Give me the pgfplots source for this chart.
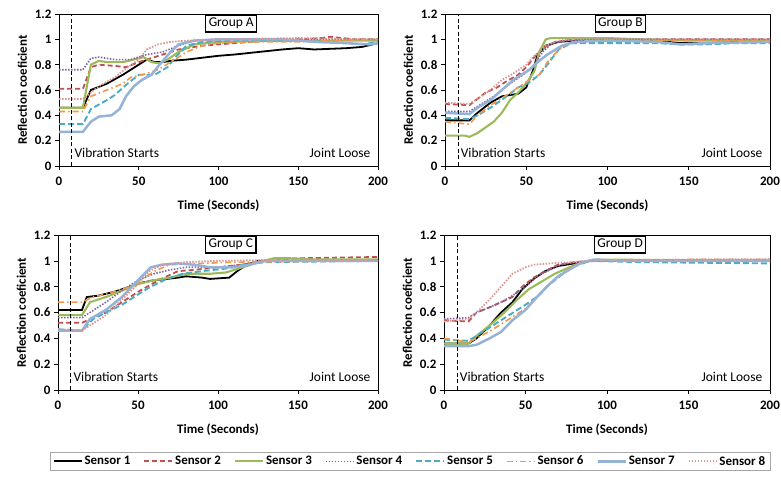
\documentclass[border=0pt]{standalone}
\usepackage{pgfplots}
\pgfplotsset{compat=1.18}
\usepackage{fontspec}
\setmainfont{Carlito}
\definecolor{c2}{HTML}{C0504D}
\definecolor{c3}{HTML}{9BBB59}
\definecolor{c4}{HTML}{8064A2}
\definecolor{c5}{HTML}{4BACC6}
\definecolor{c6}{HTML}{F79646}
\definecolor{c7}{HTML}{95B3D7}
\definecolor{c8}{HTML}{D99694}
\tikzset{
 s1/.style={black, line width=1.8bp, solid},
 s2/.style={c2, line width=1.8bp, dash pattern=on 5bp off 3bp},
 s3/.style={c3, line width=2.1bp, solid},
 s4/.style={c4, line width=1.6bp, dash pattern=on 1.5bp off 1.5bp},
 s5/.style={c5, line width=1.9bp, dash pattern=on 6bp off 3bp},
 s6/.style={c6, line width=1.6bp, dash pattern=on 6bp off 3bp on 1.5bp off 3bp},
 s7/.style={c7, line width=2.5bp, solid},
 s8/.style={c8, line width=1.8bp, dash pattern=on 1.5bp off 1.5bp},
}
\pgfplotsset{
 grp/.style={
  scale only axis, xmin=0, xmax=200, ymin=0, ymax=1.2,
  xtick={0,50,100,150,200}, ytick={0,0.2,0.4,0.6,0.8,1,1.2},
  yticklabels={0,0.2,0.4,0.6,0.8,1,1.2},
  tick align=outside, tick pos=left, major tick length=4bp,
  axis line style={black, line width=0.6bp},
  every tick/.style={black, line width=0.6bp},
  /pgf/number format/assume math mode=true,
  ticklabel style={font=\bfseries\fontsize{13}{14}\selectfont},
  xticklabel style={yshift=-3bp},
  label style={font=\bfseries\fontsize{13}{15}\selectfont},
  xlabel={Time (Seconds)}, ylabel={Reflection coeficient},
  ylabel style={yshift=1bp},
  xlabel style={yshift=-8bp},
  clip=true,
 },
}
\newcommand{\annot}[1]{%
 \addplot[black, line width=0.8bp, dash pattern=on 4bp off 2.5bp, forget plot] coordinates {(8,0) (8,1.2)};
 \node[draw=black, line width=1.4bp, fill=white, inner sep=3bp, font=\fontsize{13.5}{14}\selectfont] at (axis cs:108,1.125) {#1};
 \node[anchor=west, font=\fontsize{13.5}{14}\selectfont, inner sep=1bp] at (axis cs:9,0.1) {Vibration Starts};
 \node[anchor=east, font=\fontsize{13.5}{14}\selectfont, inner sep=1bp] at (axis cs:196,0.1) {Joint Loose};
}
\begin{document}
\begin{tikzpicture}
\useasboundingbox (0,0) rectangle (781bp,483bp);
% Group A
\begin{axis}[grp, at={(59bp,317bp)}, anchor=south west, width=319bp, height=152bp]
\addplot[s1] coordinates {(0,0.46)(15,0.46)(20,0.6)(30,0.65)(40,0.72)(50,0.8)(55,0.84)(60,0.82)(65,0.82)(70,0.83)(80,0.84)(100,0.87)(110,0.88)(125,0.9)(140,0.92)(150,0.93)(160,0.92)(180,0.93)(190,0.94)(200,0.97)};
\addplot[s2] coordinates {(0,0.61)(15,0.61)(20,0.78)(25,0.8)(35,0.79)(42,0.78)(50,0.82)(55,0.84)(65,0.88)(75,0.92)(90,0.95)(110,0.97)(130,0.99)(150,1.0)(165,1.01)(170,1.02)(185,1.0)(200,1.0)};
\addplot[s3] coordinates {(0,0.46)(15,0.46)(20,0.8)(25,0.83)(30,0.82)(40,0.82)(50,0.85)(53,0.86)(58,0.82)(63,0.81)(68,0.84)(75,0.9)(85,0.96)(100,0.98)(150,0.99)(200,0.99)};
\addplot[s4] coordinates {(0,0.76)(15,0.76)(20,0.85)(25,0.86)(35,0.84)(45,0.84)(50,0.86)(55,0.88)(65,0.9)(75,0.95)(85,0.99)(100,1.0)(150,1.0)(200,1.0)};
\addplot[s5] coordinates {(0,0.33)(15,0.33)(20,0.45)(30,0.52)(35,0.56)(42,0.64)(50,0.72)(60,0.72)(68,0.78)(73,0.86)(80,0.95)(90,0.98)(110,0.99)(150,0.99)(170,0.98)(190,0.96)(200,0.98)};
\addplot[s6] coordinates {(0,0.43)(15,0.43)(20,0.55)(30,0.6)(40,0.65)(45,0.7)(55,0.73)(62,0.76)(70,0.82)(80,0.9)(90,0.95)(100,0.97)(125,0.98)(150,0.98)(175,0.99)(200,1.0)};
\addplot[s7] coordinates {(0,0.27)(15,0.27)(20,0.35)(25,0.39)(33,0.4)(38,0.45)(42,0.55)(47,0.63)(52,0.68)(58,0.72)(63,0.8)(70,0.9)(75,0.96)(85,0.99)(100,1.0)(140,1.0)(160,0.98)(180,0.97)(195,0.96)(200,0.97)};
\addplot[s8] coordinates {(0,0.53)(15,0.53)(20,0.58)(25,0.63)(35,0.7)(42,0.77)(50,0.84)(55,0.92)(62,0.96)(70,0.98)(80,0.99)(100,1.0)(150,1.01)(200,1.0)};
\annot{Group A}
\end{axis}
% Group B
\begin{axis}[grp, at={(445bp,317bp)}, anchor=south west, width=325bp, height=152bp]
\addplot[s1] coordinates {(0,0.36)(15,0.36)(20,0.42)(28,0.5)(35,0.55)(40,0.56)(45,0.57)(50,0.62)(54,0.75)(57,0.88)(62,0.95)(70,0.98)(80,0.99)(130,0.99)(145,0.97)(160,0.97)(180,0.98)(200,0.99)};
\addplot[s2] coordinates {(0,0.49)(15,0.48)(20,0.53)(25,0.58)(32,0.62)(38,0.67)(45,0.72)(50,0.78)(55,0.86)(60,0.93)(68,0.98)(80,1.0)(150,1.0)(200,1.0)};
\addplot[s3] coordinates {(0,0.24)(12,0.24)(15,0.23)(20,0.26)(30,0.35)(35,0.42)(40,0.52)(45,0.58)(50,0.65)(55,0.75)(58,0.9)(62,1.0)(65,1.01)(100,1.01)(120,1.0)(150,0.99)(200,0.99)};
\addplot[s4] coordinates {(0,0.43)(15,0.43)(20,0.47)(30,0.55)(40,0.65)(48,0.72)(55,0.8)(60,0.9)(66,0.97)(75,0.99)(100,1.0)(200,1.0)};
\addplot[s5] coordinates {(0,0.38)(15,0.37)(20,0.4)(28,0.46)(38,0.55)(45,0.62)(52,0.66)(58,0.72)(63,0.8)(70,0.92)(78,0.97)(130,0.97)(145,0.96)(160,0.96)(180,0.97)(200,0.97)};
\addplot[s6] coordinates {(0,0.35)(15,0.33)(20,0.4)(28,0.48)(38,0.56)(45,0.62)(52,0.68)(58,0.72)(63,0.82)(70,0.92)(78,0.98)(100,0.99)(200,0.99)};
\addplot[s7] coordinates {(0,0.42)(15,0.41)(20,0.46)(28,0.52)(35,0.6)(42,0.68)(52,0.76)(57,0.82)(63,0.88)(72,0.95)(80,0.98)(100,0.99)(130,0.98)(145,0.96)(160,0.97)(200,0.98)};
\addplot[s8] coordinates {(0,0.5)(15,0.49)(20,0.53)(28,0.6)(35,0.68)(42,0.73)(50,0.8)(55,0.87)(62,0.95)(70,0.99)(80,1.0)(200,1.0)};
\annot{Group B}
\end{axis}
% Group C
\begin{axis}[grp, at={(58bp,93bp)}, anchor=south west, width=320bp, height=155bp,
 legend columns=8,
 legend style={at={(1.1,-0.46)}, anchor=center, draw=gray!70,
  font=\bfseries\fontsize{13}{14}\selectfont, inner ysep=2bp,
  /tikz/every even column/.append style={column sep=11bp}},
 legend cell align=left,
 legend image code/.code={\draw[#1] (0bp,0bp) -- (28bp,0bp);}]
\addplot[s1] coordinates {(0,0.62)(15,0.62)(18,0.72)(25,0.73)(35,0.76)(45,0.8)(52,0.83)(60,0.85)(68,0.86)(75,0.87)(80,0.88)(90,0.87)(95,0.86)(107,0.87)(112,0.92)(118,0.97)(125,1.0)(200,1.0)};
\addplot[s2] coordinates {(0,0.52)(15,0.52)(20,0.55)(30,0.6)(40,0.68)(50,0.76)(60,0.83)(68,0.88)(75,0.92)(85,0.93)(100,0.95)(115,0.97)(130,1.0)(150,1.02)(200,1.03)};
\addplot[s3] coordinates {(0,0.58)(15,0.58)(20,0.68)(30,0.72)(40,0.77)(50,0.82)(60,0.85)(70,0.87)(80,0.9)(95,0.9)(105,0.91)(118,0.96)(125,0.99)(135,1.02)(145,1.02)(160,1.01)(200,1.01)};
\addplot[s4] coordinates {(0,0.56)(15,0.56)(20,0.6)(30,0.68)(40,0.77)(50,0.85)(60,0.9)(70,0.93)(80,0.95)(100,0.95)(115,0.97)(130,1.0)(200,1.0)};
\addplot[s5] coordinates {(0,0.47)(15,0.46)(22,0.55)(30,0.6)(40,0.66)(50,0.74)(58,0.8)(68,0.86)(78,0.9)(90,0.92)(105,0.94)(115,0.97)(130,0.99)(200,1.0)};
\addplot[s6] coordinates {(0,0.68)(15,0.68)(22,0.72)(35,0.76)(45,0.8)(55,0.88)(62,0.93)(70,0.97)(90,0.98)(110,0.99)(200,1.0)};
\addplot[s7] coordinates {(0,0.46)(15,0.46)(20,0.55)(30,0.62)(40,0.72)(50,0.85)(58,0.95)(65,0.97)(75,0.98)(85,0.97)(95,0.95)(110,0.95)(120,0.97)(130,1.0)(200,1.0)};
\addplot[s8] coordinates {(0,0.47)(15,0.46)(20,0.5)(30,0.58)(40,0.7)(50,0.82)(57,0.92)(65,0.97)(80,0.99)(100,1.0)(150,1.01)(200,1.0)};
\legend{Sensor 1,Sensor 2,Sensor 3,Sensor 4,Sensor 5,Sensor 6,Sensor 7,Sensor 8}
\annot{Group C}
\end{axis}
% Group D
\begin{axis}[grp, at={(444bp,93bp)}, anchor=south west, width=326bp, height=155bp]
\addplot[s1] coordinates {(0,0.36)(15,0.36)(20,0.4)(28,0.5)(35,0.6)(42,0.68)(48,0.78)(55,0.86)(62,0.92)(70,0.96)(80,0.98)(90,1.0)(200,1.0)};
\addplot[s2] coordinates {(0,0.54)(15,0.53)(20,0.6)(28,0.64)(35,0.68)(42,0.72)(48,0.8)(55,0.87)(62,0.92)(70,0.97)(80,0.99)(90,1.0)(200,1.0)};
\addplot[s3] coordinates {(0,0.36)(15,0.36)(20,0.42)(28,0.5)(37,0.6)(45,0.7)(52,0.78)(60,0.84)(68,0.9)(77,0.95)(85,0.99)(95,1.01)(200,1.0)};
\addplot[s4] coordinates {(0,0.55)(15,0.56)(20,0.6)(28,0.64)(35,0.68)(42,0.73)(50,0.8)(57,0.88)(65,0.93)(72,0.97)(80,0.99)(90,1.0)(150,1.01)(200,1.01)};
\addplot[s5] coordinates {(0,0.39)(15,0.38)(20,0.42)(30,0.5)(40,0.58)(50,0.66)(58,0.73)(65,0.82)(73,0.9)(80,0.96)(90,1.0)(120,0.99)(200,0.98)};
\addplot[s6] coordinates {(0,0.4)(15,0.37)(20,0.4)(30,0.47)(40,0.55)(50,0.63)(58,0.73)(65,0.82)(72,0.9)(80,0.97)(90,1.0)(150,1.01)(200,1.01)};
\addplot[s7] coordinates {(0,0.34)(15,0.34)(20,0.35)(28,0.4)(35,0.45)(42,0.54)(50,0.62)(57,0.72)(63,0.8)(70,0.88)(78,0.94)(85,0.99)(92,1.01)(110,1.0)(200,1.0)};
\addplot[s8] coordinates {(0,0.53)(15,0.55)(20,0.6)(28,0.7)(35,0.8)(42,0.9)(50,0.95)(55,0.97)(65,0.98)(80,0.99)(100,1.0)(200,1.01)};
\annot{Group D}
\end{axis}
\end{tikzpicture}
\end{document}
